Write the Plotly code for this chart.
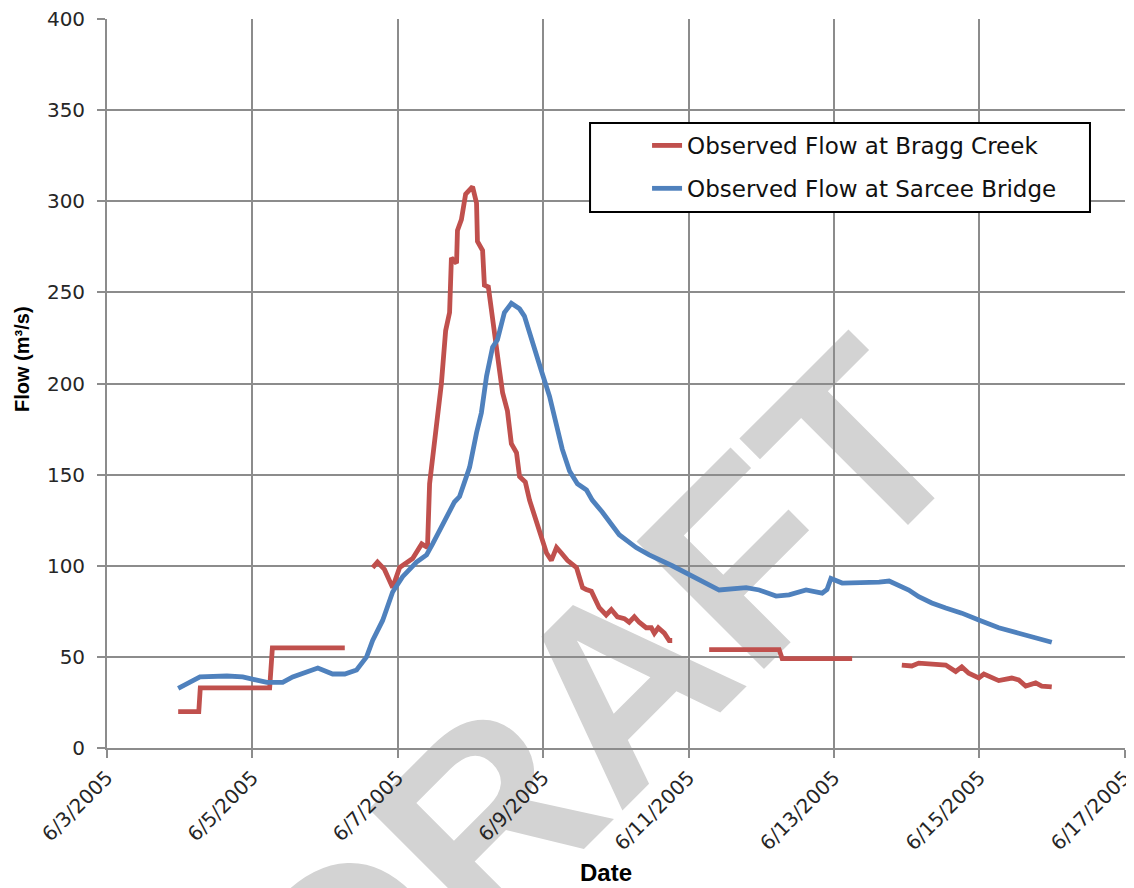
import pandas as pd
import plotly.graph_objects as go

# Time axis: hours since 6/3/2005 00:00
base_date = "2005-06-03 00:00"

# Observed Flow at Bragg Creek (m3/s); None = gap in record
bragg_hours = [23.5, 30.3, 30.8, 53.7, 54.6, 78.5, None,
               87.7, 89.3, 91.6, 94.3, 96.6, 100.9, 103.9, 105.8, 106.5, 108.8, 110.4,
               111.8, 113.1, 113.7, 115.4, 115.7, 117.0, 118.4, 120.7, 122.0, 122.3,
               124.0, 124.6, 125.9, 126.9, 127.9, 129.6, 130.6, 132.2, 133.5, 135.2,
               136.2, 138.1, 139.5, 142.8, 145.1, 146.7, 148.4, 150.0, 152.0, 155.0,
               157.0, 158.2, 159.9, 162.5, 164.8, 166.5, 168.5, 170.8, 172.4, 174.1,
               175.7, 178.0, 179.7, 180.7, 182.0, 184.0, 185.6, 186.6, None,
               198.8, 221.9, 222.9, 246.0, None,
               262.4, 265.7, 268.0, 272.3, 276.9, 280.2, 282.2, 284.5, 287.8, 289.5,
               292.1, 294.4, 298.7, 301.0, 303.3, 306.6, 308.6, 311.9]
bragg_flow = [20, 20, 33, 33, 55, 55, None,
              99, 102, 98, 88, 99, 104, 112, 110, 145, 180, 200,
              229, 239, 269, 266, 284, 290, 304, 308, 299, 278,
              273, 254, 253, 240, 224, 207, 195, 185, 167, 162,
              149, 146, 136, 118, 107, 103, 110, 107, 103, 99,
              88, 87, 86, 77, 73, 76, 72, 71, 69, 72,
              69, 66, 66, 63, 66, 63, 59, 59, None,
              54, 54, 49, 49, None,
              45.5, 45, 46.6, 46, 45.5, 42, 44.5, 41, 38.4, 40.6,
              39, 37, 38.4, 37.3, 34, 35.7, 34, 33.5]

# Observed Flow at Sarcee Bridge (m3/s)
sarcee_hours = [23.5, 30.7, 39.6, 44.8, 52.8, 58.0, 61.3, 65.9, 69.6, 74.5, 78.5,
                82.4, 85.7, 87.7, 91.0, 94.3, 97.6, 102.2, 105.5, 107.5, 110.8,
                114.7, 116.4, 119.7, 122.0, 123.6, 125.3, 127.3, 128.9, 131.2, 133.5,
                136.2, 137.8, 140.1, 143.4, 146.1, 148.4, 150.3, 152.7, 155.3, 158.3,
                160.2, 163.5, 169.1, 174.7, 179.0, 186.6, 192.2, 197.8, 202.1, 211.0,
                215.3, 220.9, 225.2, 230.8, 236.1, 237.7, 239.0, 242.7, 248.3, 254.9,
                258.2, 261.5, 264.7, 268.0, 272.3, 276.9, 282.2, 287.8, 294.4, 301.0,
                307.6, 311.9]
sarcee_flow = [32.7, 39, 39.5, 39, 36, 36, 39, 41.7, 43.9, 40.6, 40.6,
               42.8, 50, 59, 70, 85.6, 94, 102, 106, 112, 123,
               135, 138, 154, 173, 184, 204, 220, 224, 239, 244,
               241, 237, 224, 207, 193, 178, 164, 152, 145, 141.6,
               136, 129.5, 117, 110, 106, 100, 95, 90.5, 86.7, 88,
               86.7, 83.4, 84, 86.7, 85, 87, 93, 90.5, 90.5, 91,
               91.6, 89.4, 86.7, 83, 79.6, 76.8, 74, 70.2, 66, 63,
               60, 58]

y_ticks = [0, 50, 100, 150, 200, 250, 300, 350, 400]
y_range = [0, 400.05]
x_range = ["2005-06-03 00:00", "2005-06-17 00:05"]

series_names = ["Observed Flow at Bragg Creek", "Observed Flow at Sarcee Bridge"]
series_colors = ["#C0504D", "#4F81BD"]


def to_dates(hours):
    t0 = pd.Timestamp(base_date)
    return [None if h is None else t0 + pd.Timedelta(hours=h) for h in hours]


fig = go.Figure()
fig.add_trace(go.Scatter(x=to_dates(bragg_hours), y=bragg_flow, mode="lines",
                         name=series_names[0], legendgroup="a",
                         line=dict(color=series_colors[0], width=4.8),
                         connectgaps=False))
fig.add_trace(go.Scatter(x=to_dates(sarcee_hours), y=sarcee_flow, mode="lines",
                         name=series_names[1], legendgroup="b",
                         line=dict(color=series_colors[1], width=4.8)))

grid_col = "#8c8c8c"
tick_font = dict(family="DejaVu Sans", size=20, color="#262626")

fig.update_xaxes(range=x_range, type="date", tick0="2005-06-03", dtick=2 * 86400000,
                 tickformat="%-m/%-d/%Y", tickangle=-45, tickfont=tick_font,
                 showgrid=True, gridcolor=grid_col, gridwidth=1.8,
                 showline=True, linecolor=grid_col, linewidth=1.8,
                 ticks="outside", ticklen=8, tickcolor=grid_col, tickwidth=1.8,
                 zeroline=False, automargin=False, ticklabeloverflow="allow")
fig.update_yaxes(range=y_range, tickvals=y_ticks, tickfont=tick_font,
                 showgrid=True, gridcolor=grid_col, gridwidth=1.8,
                 showline=True, linecolor=grid_col, linewidth=1.8,
                 ticks="outside", ticklen=8, tickcolor=grid_col, tickwidth=1.8,
                 ticklabelstandoff=8, zeroline=False, automargin=False,
                 ticklabeloverflow="allow")

# The page body adds an 8px offset; margins compensate so the plot sits where the reference has it.
fig.update_layout(
    width=1134, height=888,
    margin=dict(l=99, r=17, t=11, b=148, autoexpand=False),
    paper_bgcolor="white", plot_bgcolor="rgba(0,0,0,0)",
    showlegend=True,
    legend=dict(x=0.5305, y=0.856, xanchor="left", yanchor="top",
                bgcolor="rgba(0,0,0,0)", borderwidth=0,
                font=dict(family="DejaVu Sans", size=23, color="#111111"),
                traceorder="grouped", tracegroupgap=10),
    shapes=[
        dict(type="rect", xref="paper", yref="paper",
             x0=0.466, x1=0.468, y0=0.082, y1=0.085,
             line=dict(width=0), fillcolor="rgba(0,0,0,0)", layer="below",
             label=dict(text="DRAFT", textangle=-45, textposition="middle center",
                        font=dict(family="Liberation Sans", size=262,
                                  color="#d3d3d3", weight="bold"))),
        dict(type="rect", xref="paper", yref="paper",
             x0=0.4745, x1=0.9656, y0=0.7353, y1=0.8573,
             line=dict(width=2, color="black"), fillcolor="white", layer="above"),
    ],
    annotations=[
        dict(text="<b>Flow (m³/s)</b>", xref="paper", yref="paper",
             x=-0.0835, y=0.5336, textangle=-90, showarrow=False,
             xanchor="center", yanchor="middle",
             font=dict(family="Liberation Sans", size=20, color="black")),
        dict(text="<b>Date</b>", xref="paper", yref="paper",
             x=0.490, y=-0.192, showarrow=False,
             xanchor="center", yanchor="bottom",
             font=dict(family="Liberation Sans", size=24, color="black")),
    ],
)

fig.write_html("out.html")
